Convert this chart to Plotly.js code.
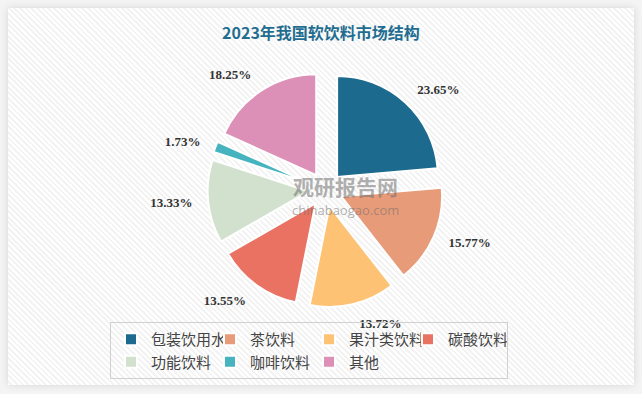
<!DOCTYPE html>
<html>
<head>
<meta charset="utf-8">
<script src="https://cdn.plot.ly/plotly-3.0.1.min.js"></script>
<style>
  html, body { margin: 0; padding: 0; background: #ffffff; }
  #wrap { position: relative; width: 642px; height: 394px; overflow: hidden; background: #f4f4f4; }
  #panel { position: absolute; left: 8px; top: 8px; width: 626px; height: 377px;
           background: repeating-linear-gradient(45deg, #ffffff 0px, #ffffff 2px, #f3f3f3 2px, #f3f3f3 4px);
           box-shadow: 0 0 8px rgba(0,0,0,0.12); }
  #chart { position: absolute; left: 0; top: 0; width: 642px; height: 394px; }
</style>
</head>
<body>
<div id="wrap">
  <div id="panel"></div>
  <div id="chart"></div>
</div>
<script>
const categories = ["包装饮用水", "茶饮料", "果汁类饮料", "碳酸饮料", "功能饮料", "咖啡饮料", "其他"];
const shares = [23.65, 15.77, 13.72, 13.55, 13.33, 1.73, 18.25];
const colors = ["#1c6b8e", "#e89b79", "#fdc274", "#e97262", "#d2e1cd", "#46b4bf", "#dc90b7"];
const labelTexts = ["23.65%", "15.77%", "13.72%", "13.55%", "13.33%", "1.73%", "18.25%"];

const W = 642, H = 394;
const ML = 110, MR = 110;           // plot area narrowed so the legend wraps after 4 entries
const PW = W - ML - MR;
const px = v => (v - ML) / PW;       // container pixel -> paper fraction (x)
const py = v => 1 - v / H;           // container pixel -> paper fraction (y)
const CX = 325.5, CY = 189.5;        // pie centre (pixels)

// visible pie (exploded slices, no text)
const pieTrace = {
  type: "pie",
  labels: categories,
  values: shares,
  textinfo: "none",
  sort: false,
  direction: "clockwise",
  rotation: 0,
  pull: 0.17,
  marker: { colors: colors, line: { color: "#ffffff", width: 2 } },
  domain: { x: [px(CX - 118), px(CX + 118)], y: [py(CY + 118), py(CY - 118)] },
  automargin: false,
  hoverinfo: "label+percent"
};

// transparent companion pie that only carries the outside labels a little further out
const labelTrace = {
  type: "pie",
  labels: categories,
  values: shares,
  text: labelTexts,
  textinfo: "text",
  textposition: "outside",
  sort: false,
  direction: "clockwise",
  rotation: 0,
  showlegend: false,
  marker: { colors: colors.map(() => "rgba(0,0,0,0)"), line: { width: 0 } },
  outsidetextfont: { family: "Liberation Serif", size: 13, color: "#333333", weight: "bold" },
  domain: { x: [px(CX - 130), px(CX + 130)], y: [py(CY + 130), py(CY - 130)] },
  automargin: false,
  hoverinfo: "skip"
};

const layout = {
  width: W, height: H,
  margin: { l: ML, r: MR, t: 0, b: 0, autoexpand: false },
  paper_bgcolor: "rgba(0,0,0,0)",
  plot_bgcolor: "rgba(0,0,0,0)",
  title: {
    text: "<b>2023年我国软饮料市场结构</b>",
    font: { family: "Noto Sans CJK SC", size: 16, color: "#1f6d90" },
    x: 0.5, xanchor: "center", xref: "container", y: 1 - 33 / H, yanchor: "middle", yref: "container"
  },
  showlegend: true,
  legend: {
    orientation: "h",
    xref: "container", yref: "container",
    x: 110 / W, xanchor: "left",
    y: 1 - 322 / H, yanchor: "top",
    entrywidth: 54, entrywidthmode: "pixels",
    font: { family: "Noto Sans CJK SC", size: 15, color: "#444444" },
    bgcolor: "rgba(0,0,0,0)",
    bordercolor: "#d0d0d0", borderwidth: 1,
    tracegroupgap: 0,
    traceorder: "normal"
  },
  annotations: [
    { text: "<b>观研报告网</b>", x: px(345), y: py(186), xref: "paper", yref: "paper",
      showarrow: false, font: { family: "Noto Sans CJK SC", size: 21, color: "rgba(110,110,110,0.55)" } },
    { text: "chinabaogao.com", x: px(345), y: py(210), xref: "paper", yref: "paper",
      showarrow: false, font: { family: "Open Sans", size: 13, color: "rgba(110,110,110,0.55)" } }
  ]
};

Plotly.newPlot("chart", [pieTrace, labelTrace], layout, { displayModeBar: false, staticPlot: true });
</script>
</body>
</html>
